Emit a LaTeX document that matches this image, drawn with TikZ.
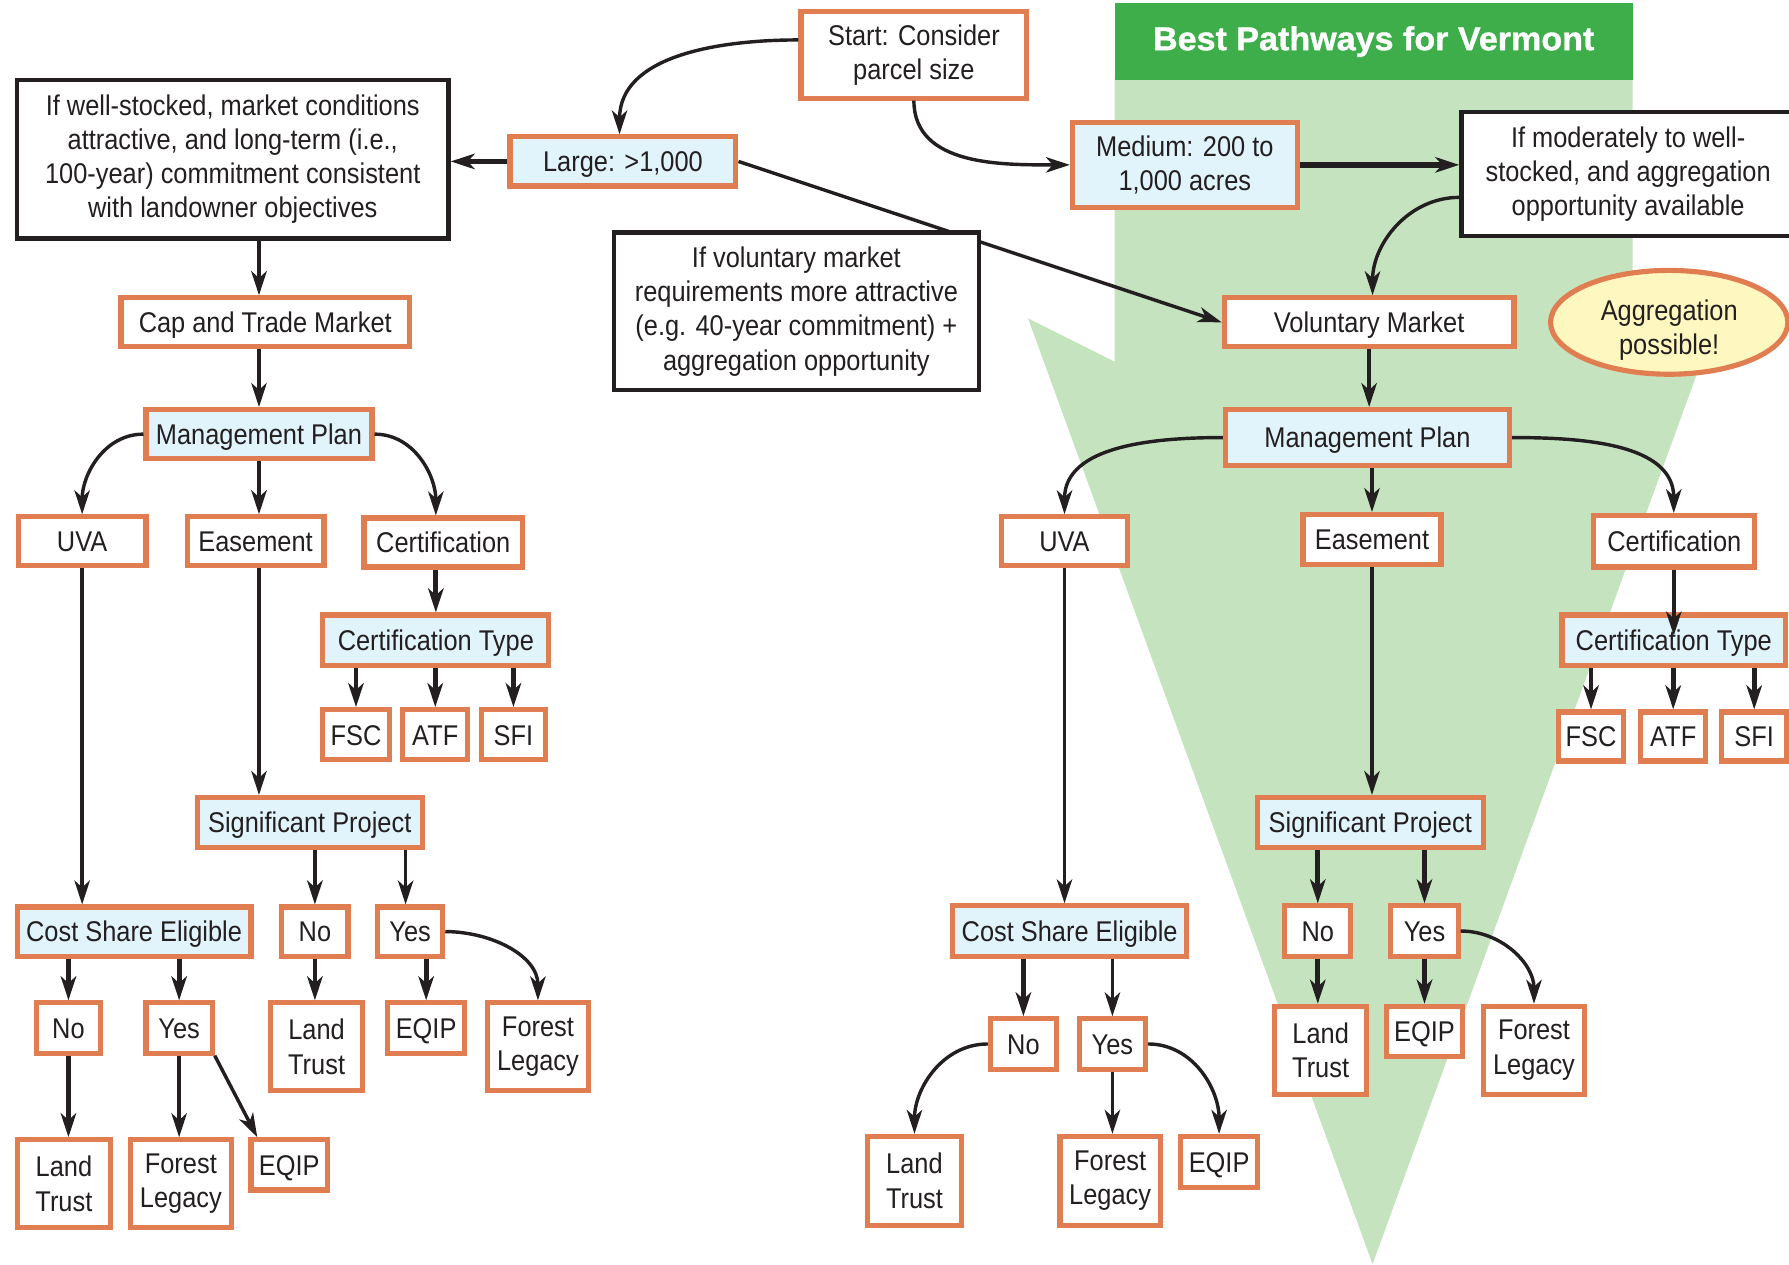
\documentclass[tikz,border=0pt]{standalone}
\usepackage{fontspec}
\setmainfont[FakeStretch=0.89]{Liberation Sans}
\newfontfamily\titlefont[FakeStretch=1.03,FakeBold=1]{Liberation Sans}
\usetikzlibrary{arrows.meta,shapes.geometric}
\definecolor{orng}{HTML}{E07E52}
\definecolor{lblue}{HTML}{E1F3FB}
\definecolor{hgreen}{HTML}{3DAE49}
\definecolor{lgreen}{HTML}{C5E3BF}
\definecolor{yell}{HTML}{FEF7C0}
\definecolor{blk}{HTML}{231F20}
\pgfdeclarelayer{greenlayer}
\pgfdeclarelayer{underlayer}
\pgfsetlayers{greenlayer,underlayer,main}
\tikzset{
  basebox/.style={draw=orng, line width=4.5pt, fill=white, inner sep=0pt, align=center, text=blk},
  obox/.style={basebox, text height=18pt, text depth=0pt},
  bbox/.style={obox, fill=lblue},
  mbox/.style={basebox},
  mbbox/.style={basebox, fill=lblue},
  kbox/.style={draw=blk, line width=4pt, fill=white, inner sep=0pt, align=center, text=blk},
  arr/.style={-{Stealth[length=21pt,width=13.5pt,inset=6pt]}, line width=3pt, draw=blk},
  tarr/.style={arr, line width=4.2pt},
}
\begin{document}
\begin{tikzpicture}[x=1pt,y=-1pt, every node/.style={font=\fontsize{25}{30}\selectfont}]
\useasboundingbox (0,0) rectangle (1568,1108);
\begin{pgfonlayer}{greenlayer}
  \fill[lgreen] (977,69) -- (1431,69) -- (1431,317) -- (1505,279) -- (1203,1108) -- (901,279) -- (977,317) -- cycle;
  \fill[hgreen] (977,3) rectangle (1431,70);
\end{pgfonlayer}
\node[text=white, font=\titlefont\bfseries\fontsize{29}{30}\selectfont] (title) at (1204,36.5) {Best Pathways for Vermont};

% top
\node[mbox, minimum width=198, minimum height=76] (start) at (801,48) {Start: Consider\\parcel size};
\node[bbox, minimum width=198, minimum height=43] (large) at (546,141.5) {Large: >1,000};
\node[kbox, minimum width=378, minimum height=139] (leftbox) at (204,139.5) {If well-stocked, market conditions\\attractive, and long-term (i.e.,\\100-year) commitment consistent\\with landowner objectives};
\node[mbbox, minimum width=197, minimum height=75] (medium) at (1038.5,144.5) {Medium: 200 to\\1,000 acres};
\node[kbox, minimum width=292, minimum height=109] (rightbox) at (1427,152.5) {If moderately to well-\\stocked, and aggregation\\opportunity available};
\node[kbox, minimum width=320, minimum height=138] (midbox) at (698,273) {If voluntary market\\requirements more attractive\\(e.g. 40-year commitment) +\\aggregation opportunity};
\node[obox, minimum width=254, minimum height=43] (vol) at (1200,282.5) {Voluntary Market};
\node[basebox, ellipse, fill=yell, minimum width=208, minimum height=91, text height=57pt, text depth=0pt] (aggr) at (1463,282.5) {Aggregation\\possible!};

% left tree
\node[obox, minimum width=253, minimum height=43] (capL) at (232.5,282.5) {Cap and Trade Market};
\node[bbox, minimum width=198, minimum height=43] (mgmtL) at (227,380.5) {Management Plan};
\node[obox, minimum width=112, minimum height=43] (uvaL) at (72,474.5) {UVA};
\node[obox, minimum width=120, minimum height=43] (easeL) at (224,474.5) {Easement};
\node[obox, minimum width=139, minimum height=43] (certL) at (388.5,475.5) {Certification};
\node[bbox, minimum width=198, minimum height=44] (ctypeL) at (382,561) {Certification Type};
\node[obox, minimum width=58, minimum height=44] (fscL) at (312,644) {FSC};
\node[obox, minimum width=57, minimum height=44] (atfL) at (381.5,644) {ATF};
\node[obox, minimum width=56, minimum height=44] (sfiL) at (450,644) {SFI};
\node[bbox, minimum width=197, minimum height=44] (spL) at (271.5,721) {Significant Project};
\node[bbox, minimum width=205, minimum height=43] (cseL) at (117.5,816.5) {Cost Share Eligible};
\node[obox, minimum width=58, minimum height=43] (noSPL) at (276,816.5) {No};
\node[obox, minimum width=57, minimum height=43] (yesSPL) at (359.5,816.5) {Yes};
\node[obox, minimum width=56, minimum height=44] (noCL) at (60,901) {No};
\node[obox, minimum width=58, minimum height=44] (yesCL) at (157,901) {Yes};
\node[mbox, minimum width=81, minimum height=77] (ltSPL) at (277.5,917.5) {Land\\Trust};
\node[obox, minimum width=67, minimum height=44] (eqSPL) at (373.5,901) {EQIP};
\node[mbox, minimum width=89, minimum height=77] (flSPL) at (471.5,917.5) {Forest\\Legacy};
\node[mbox, minimum width=82, minimum height=77] (ltCL) at (56,1037.5) {Land\\Trust};
\node[mbox, minimum width=89, minimum height=77] (flCL) at (158.5,1037.5) {Forest\\Legacy};
\node[obox, minimum width=67, minimum height=44] (eqCL) at (253.5,1021) {EQIP};

% right tree
\node[bbox, minimum width=249, minimum height=49] (mgmtR) at (1198.5,383.5) {Management Plan};
\node[obox, minimum width=110, minimum height=43] (uvaR) at (933,474.5) {UVA};
\node[obox, minimum width=121, minimum height=44] (easeR) at (1202.5,473) {Easement};
\node[obox, minimum width=141, minimum height=45] (certR) at (1467.5,474.5) {Certification};
\node[bbox, minimum width=196, minimum height=44] (ctypeR) at (1467,561) {Certification Type};
\node[obox, minimum width=57, minimum height=43] (fscR) at (1394.5,645.5) {FSC};
\node[obox, minimum width=57, minimum height=43] (atfR) at (1466.5,645.5) {ATF};
\node[obox, minimum width=57, minimum height=43] (sfiR) at (1537.5,645.5) {SFI};
\node[bbox, minimum width=198, minimum height=44] (spR) at (1201,721) {Significant Project};
\node[bbox, minimum width=205, minimum height=44] (cseR) at (937.5,816) {Cost Share Eligible};
\node[obox, minimum width=58, minimum height=44] (noSPR) at (1155,816) {No};
\node[obox, minimum width=59, minimum height=44] (yesSPR) at (1248.5,816) {Yes};
\node[mbox, minimum width=81, minimum height=77] (ltSPR) at (1157.5,920.5) {Land\\Trust};
\node[obox, minimum width=67, minimum height=44] (eqSPR) at (1248.5,904) {EQIP};
\node[mbox, minimum width=89, minimum height=77] (flSPR) at (1344.5,920.5) {Forest\\Legacy};
\node[obox, minimum width=58, minimum height=44] (noCR) at (897,915) {No};
\node[obox, minimum width=58, minimum height=44] (yesCR) at (975,915) {Yes};
\node[mbox, minimum width=83, minimum height=78] (ltCR) at (801.5,1035) {Land\\Trust};
\node[mbox, minimum width=88, minimum height=78] (flCR) at (973,1035) {Forest\\Legacy};
\node[obox, minimum width=67, minimum height=45] (eqCR) at (1068.5,1018.5) {EQIP};

% connectors: top
\begin{pgfonlayer}{underlayer}
  \draw[arr] (large.east) -- (vol.west);
\end{pgfonlayer}
\draw[arr] ([yshift=13pt]start.west) to[out=180,in=90] ([xshift=-3pt]large.north);
\draw[arr] (start.south) to[out=-90,in=180] (medium.west);
\draw[tarr, line width=4.8pt] (large.west) -- (large.west -| leftbox.east);
\draw[tarr, line width=4.8pt] (medium.east) -- (medium.east -| rightbox.west);
\draw[arr] ([yshift=-20.5pt]rightbox.west) to[out=180,in=90] ([xshift=3pt]vol.north);

% left
\draw[tarr] (mgmtL.north |- leftbox.south) -- (mgmtL.north |- capL.north);
\draw[arr] (mgmtL.north |- capL.south) -- (mgmtL.north);
\draw[arr] (mgmtL.west) to[out=180,in=90] (uvaL.north);
\draw[tarr] (mgmtL.south) -- (mgmtL.south |- easeL.north);
\draw[arr] (mgmtL.east) to[out=0,in=90] (ctypeL.north |- certL.north);
\draw[tarr] (ctypeL.north |- certL.south) -- (ctypeL.north);
\draw[tarr] (fscL.north |- ctypeL.south) -- (fscL.north);
\draw[tarr] (atfL.north |- ctypeL.south) -- (atfL.north);
\draw[tarr] (sfiL.north |- ctypeL.south) -- (sfiL.north);
\draw[arr] (uvaL.south) -- (uvaL.south |- cseL.north);
\draw[arr] ([xshift=3pt]easeL.south) -- ([xshift=3pt]easeL.south |- spL.north);
\draw[tarr] (noSPL.north |- spL.south) -- (noSPL.north);
\draw[arr] ([xshift=-4pt]yesSPL.north |- spL.south) -- ([xshift=-4pt]yesSPL.north);
\draw[tarr] (noCL.north |- cseL.south) -- (noCL.north);
\draw[tarr] (yesCL.north |- cseL.south) -- (yesCL.north);
\draw[tarr] (noCL.south) -- (noCL.south |- ltCL.north);
\draw[arr] (yesCL.south) -- (yesCL.south |- flCL.north);
\draw[arr] (yesCL.south east) -- ([xshift=-28pt]eqCL.north);
\draw[tarr] (noSPL.south) -- (noSPL.south |- ltSPL.north);
\draw[tarr] (eqSPL.north |- yesSPL.south) -- (eqSPL.north);
\draw[arr] (yesSPL.east) to[out=0,in=90] (flSPL.north);

% right
\draw[arr] (vol.south) -- (vol.south |- mgmtR.north);
\draw[arr] (mgmtR.west) to[out=180,in=90] (uvaR.north);
\draw[arr] (easeR.north |- mgmtR.south) -- (easeR.north);
\draw[arr] (mgmtR.east) to[out=0,in=90] (ctypeR.north |- certR.north);
\draw[arr, line width=3.3pt] (ctypeR.north |- certR.south) -- ([yshift=4pt]ctypeR.center);
\draw[tarr] (fscR.north |- ctypeR.south) -- (fscR.north);
\draw[tarr] (atfR.north |- ctypeR.south) -- (atfR.north);
\draw[tarr] (sfiR.north |- ctypeR.south) -- (sfiR.north);
\draw[arr] (uvaR.south) -- (uvaR.south |- cseR.north);
\draw[arr] (easeR.south) -- (easeR.south |- spR.north);
\draw[tarr] (noSPR.north |- spR.south) -- (noSPR.north);
\draw[tarr] (yesSPR.north |- spR.south) -- (yesSPR.north);
\draw[tarr] (noSPR.south) -- (noSPR.south |- ltSPR.north);
\draw[tarr] (yesSPR.south) -- (yesSPR.south |- eqSPR.north);
\draw[arr] (yesSPR.east) to[out=0,in=90] (flSPR.north);
\draw[tarr] (noCR.north |- cseR.south) -- (noCR.north);
\draw[arr] (yesCR.north |- cseR.south) -- (yesCR.north);
\draw[arr] (noCR.west) to[out=180,in=90] (ltCR.north);
\draw[arr] (yesCR.south) -- (yesCR.south |- flCR.north);
\draw[arr] (yesCR.east) to[out=0,in=90] (eqCR.north);
\end{tikzpicture}
\end{document}
